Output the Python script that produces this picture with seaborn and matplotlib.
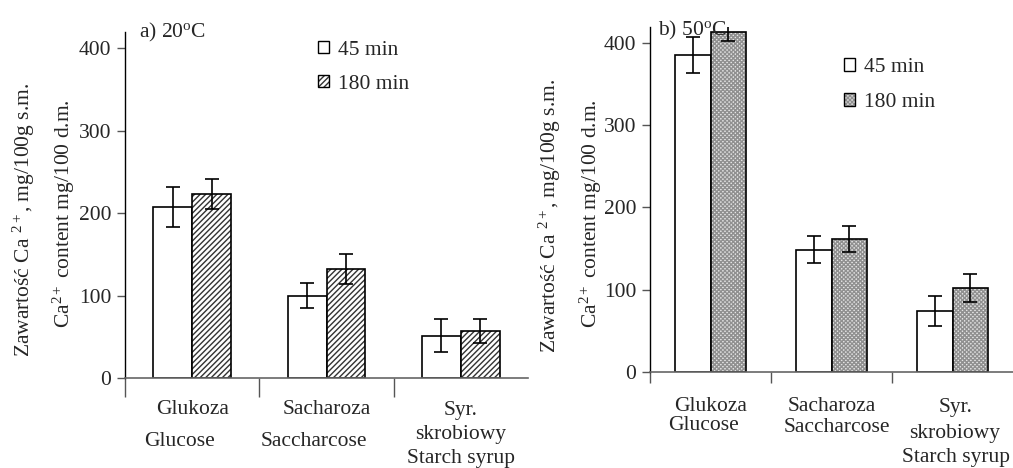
import numpy as np
import pandas as pd
import matplotlib
matplotlib.use("Agg")
import matplotlib.pyplot as plt
import matplotlib.transforms as mtransforms
from matplotlib.patches import Patch
import seaborn as sns

# ---------------- data ----------------
categories = ["Glukoza", "Sacharoza", "Syr. skrobiowy"]
tick_lines = [["Glukoza", "Glucose"],
              ["Sacharoza", "Saccharcose"],
              ["Syr.", "skrobiowy", "Starch syrup"]]
series_names = ["45 min", "180 min"]

a_45 = [207, 100, 51]
a_45_err = [24, 15, 20]
a_180 = [223, 132, 57]
a_180_err = [18, 18, 14]

b_45 = [385, 149, 74]
b_45_err = [22, 16, 18]
b_180 = [413, 162, 102]
b_180_err = [11, 16, 17]

yticks = [0, 100, 200, 300, 400]
ylabel1 = "Zawartość Ca $^{2+}$, mg/100g s.m."
ylabel2 = "Ca$^{2+}$ content mg/100 d.m."
title_a = r"a) 20$^{\mathrm{o}}$C"
title_b = r"b) 50$^{\mathrm{o}}$C"

# ---------------- style ----------------
sns.set_style("white")
plt.rcParams["font.family"] = ["Liberation Serif", "DejaVu Serif"]
plt.rcParams["mathtext.fontset"] = "custom"
plt.rcParams["mathtext.rm"] = "Liberation Serif"
plt.rcParams["mathtext.it"] = "Liberation Serif:italic"
plt.rcParams["mathtext.bf"] = "Liberation Serif:bold"
plt.rcParams["hatch.linewidth"] = 1.0

FS = 15.5
W, H = 1013, 468
fig = plt.figure(figsize=(W / 100, H / 100), dpi=100)


def px_ax(x0, y_bottom, x1, y_top):
    return fig.add_axes([x0 / W, 1 - y_bottom / H, (x1 - x0) / W, (y_bottom - y_top) / H])


def set_hc(p, c):
    if hasattr(p, "set_hatchcolor"):
        p.set_hatchcolor(c)
    else:
        p._hatch_color = matplotlib.colors.to_rgba(c)


def make_panel(ax, v45, e45, v180, e180, hatch, hatch_color, face2, ytop, xtick_len,
               label_offsets):
    df = pd.DataFrame({
        "cat": categories * 2,
        "val": list(v45) + list(v180),
        "time": [series_names[0]] * 3 + [series_names[1]] * 3,
    })
    sns.barplot(data=df, x="cat", y="val", hue="time", order=categories,
                hue_order=series_names, palette=["white", "white"],
                edgecolor="black", linewidth=1.2, width=0.58, gap=0,
                errorbar=None, legend=False, ax=ax, saturation=1)
    for p in ax.containers[1]:
        p.set_facecolor(face2)
        p.set_hatch(hatch)
        set_hc(p, hatch_color)
    for cont, errs in zip(ax.containers[:2], [e45, e180]):
        xs = [b.get_x() + b.get_width() / 2 for b in cont]
        ys = [b.get_height() for b in cont]
        ax.errorbar(xs, ys, yerr=errs, fmt="none", ecolor="black",
                    elinewidth=1.2, capsize=5, capthick=1.2, zorder=5)
    ax.set_xlim(-0.5, 2.5)
    ax.set_ylim(0, ytop)
    ax.set_yticks(yticks)
    ax.set_yticklabels([str(t) for t in yticks], fontsize=FS)
    ax.set_xticks([0, 1, 2])
    ax.set_xticklabels([])
    ax.set_xticks([-0.5, 0.5, 1.5], minor=True)
    ax.tick_params(axis="x", which="major", length=0)
    ax.tick_params(axis="x", which="minor", length=xtick_len, width=1.0,
                   color="#555555", direction="out", bottom=True)
    ax.tick_params(axis="y", which="major", length=6, width=1.0,
                   color="#555555", direction="out", left=True, pad=4)
    ax.set_xlabel("")
    ax.set_ylabel("")
    for s in ["top", "right"]:
        ax.spines[s].set_visible(False)
    ax.spines["left"].set_color("black")
    ax.spines["left"].set_linewidth(1.0)
    ax.spines["bottom"].set_color("#666666")
    ax.spines["bottom"].set_linewidth(1.2)
    # category labels
    for i, lines in enumerate(tick_lines):
        for j, txt in enumerate(lines):
            dx, dy = label_offsets[i][j]
            tr = mtransforms.offset_copy(ax.get_xaxis_transform(), fig=fig,
                                         x=dx, y=-dy, units="dots")
            ax.text(i, 0, txt, transform=tr, ha="center", va="center",
                    fontsize=FS)
    handles = [Patch(facecolor="white", edgecolor="black", linewidth=1.0),
               Patch(facecolor=face2, edgecolor="black", linewidth=1.0,
                     hatch=hatch)]
    return handles


# panel a
ax1 = px_ax(125, 378, 528, 32)
h1 = make_panel(ax1, a_45, a_45_err, a_180, a_180_err, "//////", "#333333", "white",
                419.5, 14,
                [[(0, 32), (-13, 63)], [(0, 32), (-13, 63)],
                 [(0, 32), (0, 57), (0, 81)]])
leg1 = ax1.legend(h1, series_names, loc="upper left", bbox_to_anchor=(0.48, 0.975),
                  frameon=False, fontsize=FS, handlelength=0.5, handleheight=0.5,
                  handletextpad=0.4, labelspacing=0.7, borderpad=0, borderaxespad=0)
for hp in leg1.legend_handles[1:]:
    set_hc(hp, "#333333")
ax1.text(0.035, 1.0, title_a, transform=ax1.transAxes, ha="left", va="center",
         fontsize=FS)

# panel b
ax2 = px_ax(650, 372.3, 1013, 27)
h2 = make_panel(ax2, b_45, b_45_err, b_180, b_180_err, "xxxxxxxx", "#909090", "#e4e4e4",
                419, 8,
                [[(0, 34), (-7, 53)], [(0, 34), (5, 55)],
                 [(3, 35), (2, 61), (3, 85)]])
leg2 = ax2.legend(h2, series_names, loc="upper left", bbox_to_anchor=(0.535, 0.91),
                  frameon=False, fontsize=FS, handlelength=0.5, handleheight=0.5,
                  handletextpad=0.4, labelspacing=0.75, borderpad=0, borderaxespad=0)
for hp in leg2.legend_handles[1:]:
    set_hc(hp, "#909090")
ax2.text(0.022, 0.99, title_b, transform=ax2.transAxes, ha="left", va="center",
         fontsize=FS)

# y labels (two lines each)
for (x1, y1, x2, y2) in [(24, 220, 64, 214), (550, 216, 591, 214)]:
    fig.text(x1 / W, 1 - y1 / H, ylabel1, rotation=90, ha="center", va="center",
             fontsize=FS)
    fig.text(x2 / W, 1 - y2 / H, ylabel2, rotation=90, ha="center", va="center",
             fontsize=FS)

fig.savefig("out.png", dpi=100)
